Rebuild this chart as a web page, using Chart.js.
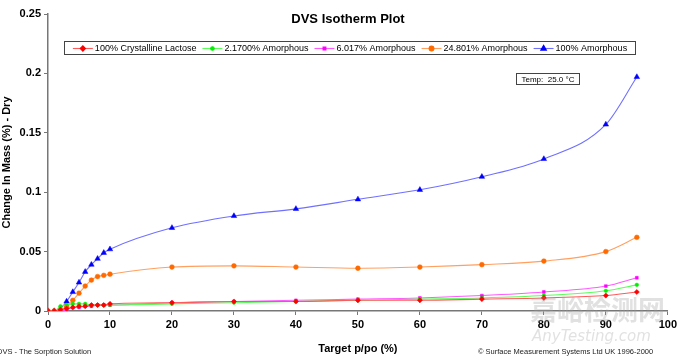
<!DOCTYPE html>
<html><head><meta charset="utf-8">
<script src="https://cdn.jsdelivr.net/npm/chart.js@4/dist/chart.umd.min.js"></script>
<style>html,body{margin:0;padding:0;background:#fff}#wrap{width:680px;height:356px}</style>
</head><body><div id="wrap"><canvas id="c" width="680" height="356"></canvas></div>
<script>
const chartTitle = "DVS Isotherm Plot";
const xTitle = "Target p/po (%)";
const yTitle = "Change In Mass (%) - Dry";
const tempLabel = "Temp:  25.0 \u00B0C";
const footerLeft = "DVS - The Sorption Solution";
const footerRight = "\u00A9 Surface Measurement Systems Ltd UK 1996-2000";
const xTicks = [0,10,20,30,40,50,60,70,80,90,100];
const yTicks = [0,0.05,0.1,0.15,0.2,0.25];
const targetRH = [0,1,2,3,4,5,6,7,8,9,10,20,30,40,50,60,70,80,90,95];
const seriesNames = ["100% Crystalline Lactose","2.1700% Amorphous","6.017% Amorphous","24.801% Amorphous","100% Amorphous"];
const crystalline = [0,0,0.001,0.002,0.003,0.004,0.004,0.005,0.005,0.005,0.006,0.007,0.008,0.008,0.009,0.009,0.010,0.011,0.013,0.016];
const amorph2 = [0,0,0.004,0.005,0.006,0.006,0.006,0.005,0.005,0.005,0.005,0.006,0.007,0.008,0.009,0.010,0.011,0.013,0.017,0.022];
const amorph6 = [0,0,0,0.001,0.003,0.003,0.004,0.004,0.005,0.005,0.005,0.007,0.008,0.009,0.010,0.011,0.013,0.016,0.021,0.028];
const amorph25 = [0,0,0.001,0.004,0.009,0.015,0.021,0.026,0.029,0.030,0.031,0.037,0.038,0.037,0.036,0.037,0.039,0.042,0.050,0.062];
const amorph100 = [0,0,0.002,0.008,0.016,0.024,0.033,0.039,0.044,0.049,0.052,0.070,0.080,0.086,0.094,0.102,0.113,0.128,0.157,0.197];

const lineColors = ["#ff5a5a","#5aff5a","#ff5aff","#ffa060","#7070ff"];
const markColors = ["#ff0000","#00ee00","#ff00ff","#ff6a00","#0000ff"];
const markStyles = ["rectRot","circle","rect","circle","triangle"];
const markSizes = [2.6,1.8,2,2.4,3.2];
const allSeries = [crystalline, amorph2, amorph6, amorph25, amorph100];

const datasets = allSeries.map((vals,i)=>({
  label: seriesNames[i],
  data: targetRH.map((x,j)=>({x:x,y:vals[j]})),
  borderColor: lineColors[i],
  backgroundColor: markColors[i],
  pointBackgroundColor: markColors[i],
  pointBorderColor: markColors[i],
  pointBorderWidth: 0.5,
  pointStyle: markStyles[i],
  pointRadius: markSizes[i],
  borderWidth: 1.1,
  cubicInterpolationMode: 'monotone',
  fill:false
}));

const font = "'Liberation Sans', Arial, sans-serif";

const decor = {
  id:'decor',
  afterDraw(chart){
    const ctx = chart.ctx;
    ctx.save();
    // title
    ctx.fillStyle = "#000";
    ctx.font = "bold 13px " + font;
    ctx.textAlign = "center"; ctx.textBaseline = "middle";
    ctx.fillText(chartTitle, 348, 19);
    // legend
    ctx.font = "9px " + font;
    const sample = 20, gapT = 2, gapItem = 6;
    let widths = seriesNames.map(n=>ctx.measureText(n).width);
    let total = widths.reduce((a,b)=>a+b,0) + seriesNames.length*(sample+gapT) + (seriesNames.length-1)*gapItem;
    const bx0 = 64, bx1 = 636, by0 = 41, by1 = 55;
    ctx.fillStyle="#fff"; ctx.fillRect(bx0,by0,bx1-bx0,by1-by0);
    ctx.strokeStyle="#444"; ctx.lineWidth=1;
    ctx.strokeRect(bx0+0.5,by0+0.5,bx1-bx0-1,by1-by0-1);
    let x = (bx0+bx1)/2 - total/2;
    const ly = (by0+by1)/2+0.5;
    seriesNames.forEach((n,i)=>{
      ctx.strokeStyle = lineColors[i]; ctx.lineWidth=1.1;
      ctx.beginPath(); ctx.moveTo(x,ly); ctx.lineTo(x+sample,ly); ctx.stroke();
      ctx.fillStyle = markColors[i]; ctx.strokeStyle = markColors[i];
      Chart.helpers.drawPoint(ctx,{pointStyle:markStyles[i],radius:markSizes[i],borderWidth:0.5,rotation:0},x+sample/2,ly);
      ctx.fillStyle="#000"; ctx.textAlign="left"; ctx.textBaseline="middle";
      ctx.fillText(n, x+sample+gapT, ly);
      x += sample+gapT+widths[i]+gapItem;
    });
    // temp box
    ctx.font = "8px " + font;
    ctx.fillStyle="#fff"; ctx.fillRect(516,73,63,11);
    ctx.strokeStyle="#444"; ctx.lineWidth=1;
    ctx.strokeRect(516.5,73.5,63,11);
    ctx.fillStyle="#000"; ctx.textAlign="center";
    ctx.fillText(tempLabel, 548, 79.5);
    // footers
    ctx.font = "7.5px " + font;
    ctx.textAlign="left"; ctx.textBaseline="middle";
    ctx.fillStyle="#222";
    ctx.fillText(footerLeft, -3, 352);
    ctx.fillText(footerRight, 478, 352);
    // watermark
    ctx.globalAlpha = 0.3;
    ctx.fillStyle = "#9a9a9a";
    ctx.font = "bold 27px 'Noto Sans CJK SC', sans-serif";
    ctx.fillText("\u5609\u5CEA\u68C0\u6D4B\u7F51", 530, 310);
    ctx.font = "italic 15px 'DejaVu Sans', sans-serif";
    ctx.fillText("AnyTesting.com", 532, 337);
    ctx.restore();
  }
};

new Chart(document.getElementById('c'), {
  type:'line',
  data:{datasets},
  plugins:[decor],
  options:{
    responsive:false, animation:false,
    layout:{padding:{left:0,right:10,top:14,bottom:0}},
    plugins:{legend:{display:false}, title:{display:false}, tooltip:{enabled:false}},
    scales:{
      x:{type:'linear', min:0, max:100,
        afterBuildTicks(s){ s.ticks = xTicks.map(v=>({value:v})); },
        afterFit(s){ s.height = 45; },
        grid:{drawOnChartArea:false, color:"#777", tickLength:4, drawTicks:true},
        border:{color:"#777", width:1.5},
        ticks:{color:"#000", font:{family:font, size:11, weight:'bold'}, padding:3, maxRotation:0},
        title:{display:true, text:xTitle, color:"#000", font:{family:font,size:11,weight:'bold'}, padding:{top:5,bottom:0}}
      },
      y:{type:'linear', min:0, max:0.25,
        afterBuildTicks(s){ s.ticks = yTicks.map(v=>({value:v})); },
        afterFit(s){ s.width = 48; },
        grid:{drawOnChartArea:false, color:"#777", tickLength:4},
        border:{color:"#777", width:1.5},
        ticks:{color:"#000", font:{family:font, size:11, weight:'bold'}, padding:3, callback:v=>String(v)},
        title:{display:true, text:yTitle, color:"#000", font:{family:font,size:11,weight:'bold'}, padding:{top:0,bottom:1}}
      }
    }
  }
});
</script></body></html>
